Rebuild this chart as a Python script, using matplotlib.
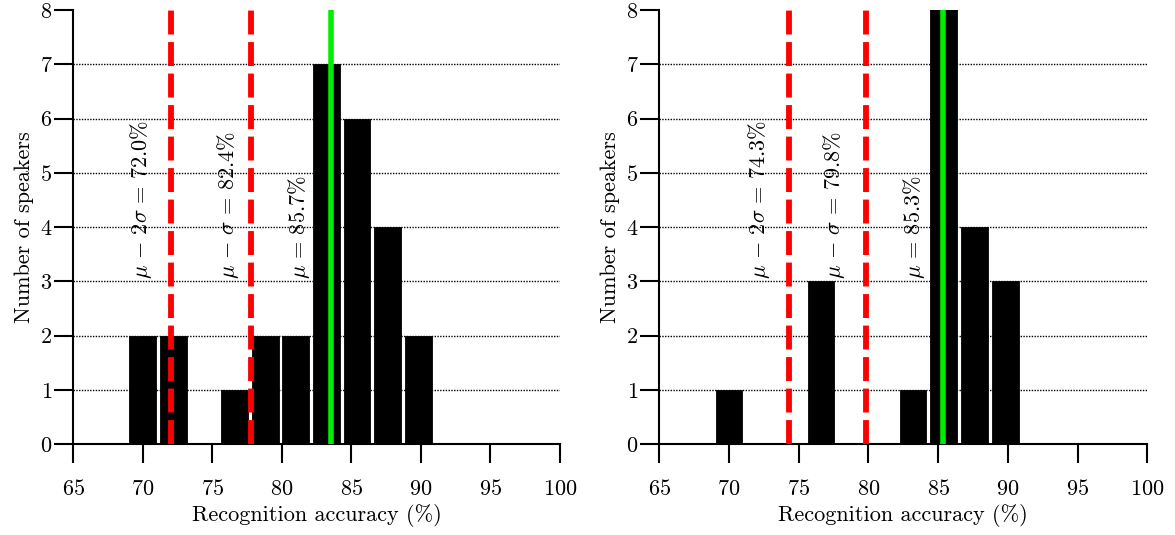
import numpy as np
import matplotlib
matplotlib.use("Agg")
import matplotlib.pyplot as plt

plt.rcParams['font.family'] = 'serif'
plt.rcParams['font.serif'] = ['cmr10']
plt.rcParams['mathtext.fontset'] = 'cm'
plt.rcParams['axes.formatter.use_mathtext'] = True
plt.rcParams['axes.unicode_minus'] = False

# histogram bins (centres, %) shared by both panels
bin_centres = [70.0, 72.2, 74.4, 76.6, 78.8, 81.0, 83.2, 85.4, 87.6, 89.8]
bar_width = 1.93

# counts per bin
counts_left = [2, 2, 0, 1, 2, 2, 7, 6, 4, 2]
counts_right = [1, 0, 0, 3, 0, 0, 1, 16, 4, 3]

# line positions (mu-2sigma, mu-sigma, mu) and their labels
lines_left = [72.0, 77.75, 83.55]
labels_left = [r'$\mu\,-\,2\sigma\,=\,72.0\%$', r'$\mu\,-\,\sigma\,=\,82.4\%$', r'$\mu\,=\,85.7\%$']
label_x_left = [69.85, 76.1, 81.25]
lines_right = [74.3, 79.8, 85.35]
labels_right = [r'$\mu\,-\,2\sigma\,=\,74.3\%$', r'$\mu\,-\,\sigma\,=\,79.8\%$', r'$\mu\,=\,85.3\%$']
label_x_right = [72.15, 77.55, 83.25]

fig = plt.figure(figsize=(11.75, 5.35), dpi=100)
ax1 = fig.add_axes([0.0624, 0.170, 0.4142, 0.811])
ax2 = fig.add_axes([0.5611, 0.170, 0.4153, 0.811])

panels = [(ax1, counts_left, lines_left, labels_left, label_x_left),
          (ax2, counts_right, lines_right, labels_right, label_x_right)]

for ax, counts, lines, labels, label_x in panels:
    ax.bar(bin_centres, counts, width=bar_width, color='black',
           edgecolor='black', linewidth=0.6, zorder=2)
    # sigma lines (red dashed) and mean line (green)
    for i in range(len(lines)):
        if i < 2:
            ax.axvline(lines[i], color='#ff0000', linestyle=(0, (4.1, 1.3)),
                       linewidth=4.2, zorder=3)
        else:
            ax.axvline(lines[i], color='#00ee00', linewidth=4, zorder=3)
        ax.text(label_x[i], 3.05, labels[i], rotation=90, ha='center',
                va='bottom', fontsize=16)

    ax.set_xlim(65, 100)
    ax.set_ylim(0, 8)
    ax.set_xticks(range(65, 101, 5))
    ax.set_yticks(range(0, 9))
    ax.yaxis.grid(True, linestyle=(0, (1, 1)), color='black', linewidth=1, zorder=0)
    ax.get_ygridlines()[-1].set_visible(False)
    ax.get_ygridlines()[0].set_visible(False)
    ax.set_axisbelow(True)
    ax.spines['top'].set_visible(False)
    ax.spines['right'].set_visible(False)
    ax.spines['left'].set_linewidth(1.5)
    ax.spines['bottom'].set_linewidth(1.5)
    ax.tick_params(direction='out', length=13.5, width=1.5, labelsize=16)
    ax.tick_params(axis='x', pad=12)
    ax.tick_params(axis='y', pad=1.5)
    ax.set_xlabel('Recognition accuracy (%)', fontsize=16, labelpad=3)
    ax.set_ylabel('Number of speakers', fontsize=16, labelpad=4)

fig.savefig('out.png', dpi=100)
